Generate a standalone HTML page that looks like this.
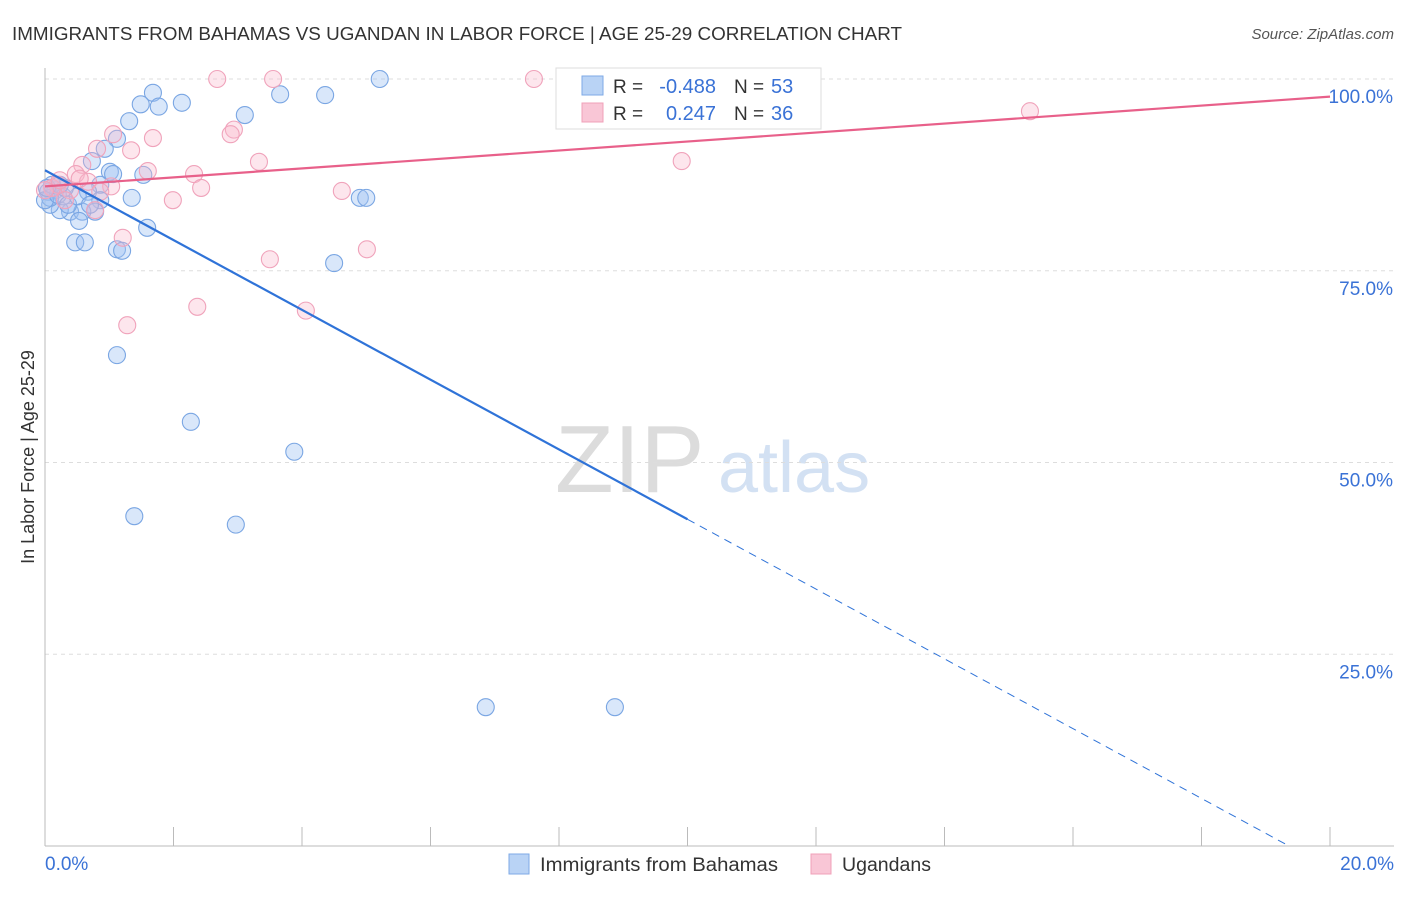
<!DOCTYPE html>
<html><head><meta charset="utf-8">
<style>
body{margin:0;background:#fff;font-family:"Liberation Sans",sans-serif;}
svg text{font-family:"Liberation Sans",sans-serif;}
</style></head>
<body>
<svg id="chart" width="1406" height="892" viewBox="0 0 1406 892">
<text x="12" y="40" font-size="18" fill="#333" textLength="890" lengthAdjust="spacingAndGlyphs">IMMIGRANTS FROM BAHAMAS VS UGANDAN IN LABOR FORCE | AGE 25-29 CORRELATION CHART</text>
<text x="1394" y="39" font-size="15" fill="#555" font-style="italic" text-anchor="end">Source: ZipAtlas.com</text>
<g>
<text x="555" y="492" font-size="96" fill="#dcdcdc" font-family="Liberation Serif">ZIP</text>
<text x="718" y="492" font-size="72" fill="#d3e1f3">atlas</text>
</g>
<g id="grid"></g>
<g id="axes"></g>
<g id="blue"></g>
<g id="pink"></g>
<g id="trends"></g>
<text transform="translate(34,457) rotate(-90)" font-size="18" fill="#333" text-anchor="middle">In Labor Force | Age 25-29</text>
<g>
<rect x="556" y="68" width="265" height="61" fill="#fff" stroke="#ddd"/>
<rect x="582" y="76" width="21" height="19" fill="#b9d3f5" stroke="#7ea9e6"/>
<rect x="582" y="103" width="21" height="19" fill="#f9c6d6" stroke="#f0a0b8"/>
<text x="613" y="93" font-size="19" fill="#333">R =</text>
<text x="716" y="93" font-size="20" fill="#3a72d6" text-anchor="end">-0.488</text>
<text x="734" y="93" font-size="19" fill="#333">N =</text>
<text x="771" y="93" font-size="20" fill="#3a72d6">53</text>
<text x="613" y="120" font-size="19" fill="#333">R =</text>
<text x="716" y="120" font-size="20" fill="#3a72d6" text-anchor="end">0.247</text>
<text x="734" y="120" font-size="19" fill="#333">N =</text>
<text x="771" y="120" font-size="20" fill="#3a72d6">36</text>
</g>
<g>
<rect x="509" y="854" width="20" height="20" fill="#b9d3f5" stroke="#7ea9e6"/>
<text x="540" y="871" font-size="19" fill="#333" textLength="238" lengthAdjust="spacingAndGlyphs">Immigrants from Bahamas</text>
<rect x="811" y="854" width="20" height="20" fill="#f9c6d6" stroke="#f0a0b8"/>
<text x="842" y="871" font-size="19" fill="#333" textLength="89" lengthAdjust="spacingAndGlyphs">Ugandans</text>
</g>
</svg>
<script>
const blueX=[1.68,2.13,1.49,1.77,1.31,1.12,0.73,0.93,1.01,1.06,1.53,0.86,0.67,1.35,0.86,0.39,0.78,0.58,0.23,0.08,0.16,0.05,0.28,1.59,0.53,0.47,0.62,1.12,1.20,1.12,2.27,3.88,1.39,2.97,6.86,8.87,3.11,3.66,4.36,5.21,4.50,4.90,5.00,0.08,0.0,0.20,0.36,0.51,0.70,0.31,0.11,0.23,0.03];
const blueY=[98.2,96.9,96.7,96.4,94.5,92.2,89.3,90.9,87.9,87.6,87.5,86.2,85.3,84.5,84.2,82.7,82.7,82.7,82.9,83.6,85.5,85.3,84.7,80.6,81.5,78.7,78.7,77.8,77.6,64.0,55.3,51.4,43.0,41.9,18.1,18.1,95.3,98.0,97.9,100,76.0,84.5,84.5,84.5,84.2,84.9,83.6,84.7,83.6,85.8,86.2,86.2,85.8];
const pinkX=[2.68,3.55,7.61,15.33,1.06,1.68,2.94,2.89,1.34,0.81,0.58,1.60,3.33,2.32,0.48,1.03,2.43,1.99,4.62,5.01,3.50,1.21,2.37,4.06,1.28,9.91,0.20,0.11,0.39,0.67,0.31,0.78,0.86,0.54,0.0,0.23];
const pinkY=[100,100,100,95.8,92.8,92.3,93.4,92.8,90.7,90.9,88.8,88.0,89.2,87.6,87.6,86.0,85.8,84.2,85.4,77.8,76.5,79.3,70.3,69.8,67.9,89.3,86.2,85.8,85.5,86.6,84.2,82.9,85.3,87.0,85.5,86.8];
const yTicks=[25,50,75,100];
const yTickLabels=["25.0%","50.0%","75.0%","100.0%"];
const xTicks=[0,2,4,6,8,10,12,14,16,18,20];
const blueTrend=[88.1,-4.55];
const pinkTrend=[86.0,0.585];

const NS="http://www.w3.org/2000/svg";
const sx=v=>45+v/20*1285;
const sy=v=>846-v/100*767;
function mk(tag,attrs,parent){const e=document.createElementNS(NS,tag);for(const k in attrs)e.setAttribute(k,attrs[k]);parent.appendChild(e);return e;}
const grid=document.getElementById('grid'),axes=document.getElementById('axes');
yTicks.forEach((t,i)=>{
  const l=mk('line',{x1:45,x2:1394,y1:sy(t),y2:sy(t),stroke:'#ddd','stroke-dasharray':'4,4'},grid);
  
  
  const tx=mk('text',{x:1393,y:sy(t)+24,'font-size':19,fill:'#3a72d6','text-anchor':'end'},axes);
  tx.textContent=yTickLabels[i];
  
  
});
const ya=mk('line',{x1:45,x2:45,y1:68,y2:846,stroke:'#bbb'},axes);


const xa=mk('line',{x1:45,x2:1394,y1:846,y2:846,stroke:'#bbb'},axes);


xTicks.forEach(t=>{
  const l=mk('line',{x1:sx(t),x2:sx(t),y1:827,y2:846,stroke:'#bbb'},axes);
  
  
});
const xl0=mk('text',{x:45,y:870,'font-size':19,fill:'#3a72d6'},axes);xl0.textContent='0.0%';


const xl1=mk('text',{x:1394,y:870,'font-size':19,fill:'#3a72d6','text-anchor':'end'},axes);xl1.textContent='20.0%';



function dots(xs,ys,g,fill,stroke,name){
  xs.forEach((x,i)=>{
    const c=mk('circle',{cx:sx(x),cy:sy(ys[i]),r:8.5,fill:fill,stroke:stroke,'stroke-width':1.1},g);
    
    
  });
}
dots(blueX,blueY,document.getElementById('blue'),'rgba(160,196,242,0.4)','#7aa6e3','bahamas');
dots(pinkX,pinkY,document.getElementById('pink'),'rgba(248,184,204,0.35)','#f0a3bb','ugandan');

const tr=document.getElementById('trends');
const bAt=x=>blueTrend[0]+blueTrend[1]*x;
const bZero=-blueTrend[0]/blueTrend[1];
const b1=mk('line',{x1:sx(0),y1:sy(bAt(0)),x2:sx(10),y2:sy(bAt(10)),stroke:'#2f73d8','stroke-width':2.2},tr);


const b2=mk('line',{x1:sx(10),y1:sy(bAt(10)),x2:sx(bZero),y2:sy(0),stroke:'#2f73d8','stroke-width':1,'stroke-dasharray':'8,6'},tr);


const pAt=x=>pinkTrend[0]+pinkTrend[1]*x;
const p1=mk('line',{x1:sx(0),y1:sy(pAt(0)),x2:sx(20),y2:sy(pAt(20)),stroke:'#e8608a','stroke-width':2.2},tr);


</script>
</body></html>
